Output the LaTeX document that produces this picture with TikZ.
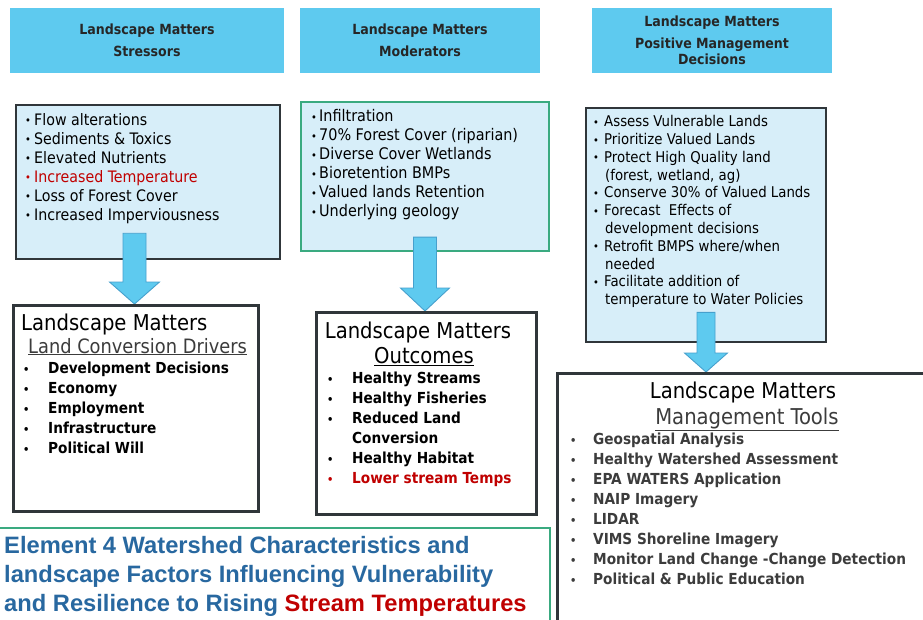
\documentclass[tikz,border=0pt]{standalone}
\usepackage{fontspec}
\setmainfont{DejaVu Sans Condensed}
\newfontfamily\arial{Liberation Sans}
\usetikzlibrary{calc}

\definecolor{cielo}{RGB}{94,202,239}
\definecolor{celeste}{RGB}{215,238,249}
\definecolor{marco}{RGB}{48,54,58}
\definecolor{verde}{RGB}{58,170,128}
\definecolor{rojo}{RGB}{192,0,0}
\definecolor{azulT}{RGB}{40,104,160}
\definecolor{bordeFlecha}{RGB}{70,160,205}
\definecolor{grisT}{RGB}{60,60,60}

% vineta pequena
\newcommand{\vin}[1][8pt]{\makebox[#1][l]{\raisebox{0.4pt}{\fontsize{11}{11}\selectfont\textbullet}}}
\newcommand{\sig}[1][8pt]{\makebox[#1][l]{}}
% flecha de bloque: inicio, punta, medio ancho, media cabeza, largo cabeza
\newcommand{\flecha}[5]{
\draw[flecha] ($(#1)+(-#3,0)$) -- ($(#2)+(-#3,-#5)$) -- ($(#2)+(-#4,-#5)$) -- (#2)
  -- ($(#2)+(#4,-#5)$) -- ($(#2)+(#3,-#5)$) -- ($(#1)+(#3,0)$) -- cycle;
}

\tikzset{
cabecera/.style={fill=cielo,inner sep=0pt,align=center,text=black!85,minimum height=65pt,font=\fontsize{14}{16}\selectfont\bfseries},
cajaAzul/.style={draw=marco,fill=celeste,line width=2.6pt},
cajaVerde/.style={draw=verde,fill=celeste,line width=2.4pt},
cajaBlanca/.style={draw=marco,fill=white,line width=2.8pt,anchor=north west},
cajaTitulo/.style={draw=verde,fill=white,line width=2.4pt,anchor=north west},
lista/.style={anchor=north west,inner sep=0pt,align=left,text=black,font=\fontsize{15.8}{19}\selectfont},
titulo/.style={inner sep=0pt,font=\fontsize{21.8}{24}\selectfont},
puntos/.style={anchor=north west,inner sep=0pt,align=left,font=\fontsize{15.2}{20}\selectfont\bfseries},
flecha/.style={fill=cielo,draw=bordeFlecha,line width=0.9pt,line join=miter}
}

\begin{document}
\begin{tikzpicture}[x=1pt,y=-1pt]
    \useasboundingbox (0,0) rectangle (923,620);
    \clip (0,0) rectangle (923,620);
    \fill[white] (0,0) rectangle (923,620);

    % cabeceras
    \node[cabecera,minimum width=274pt] (h1) at (147,40.5) {Landscape Matters\\[6pt]Stressors};
    \node[cabecera,minimum width=240pt] (h2) at (420,40.5) {Landscape Matters\\[6pt]Moderators};
    \node[cabecera,minimum width=240pt] (h3) at (712,40.5) {Landscape Matters\\[6pt]Positive Management\\Decisions};

    % cajas azules
    \node[cajaAzul,minimum width=264pt,minimum height=154pt] (b1) at (148,182) {};
    \node[cajaVerde,minimum width=248pt,minimum height=149pt] (b2) at (425,176.5) {};
    \node[cajaAzul,minimum width=240pt,minimum height=234pt] (b3) at (706,225) {};

    \node[lista] (lb1) at (25,112.8) {\vin[9pt]Flow alterations\\
      \vin[9pt]Sediments \& Toxics\\
      \vin[9pt]Elevated Nutrients\\
      {\color{rojo}\vin[9pt]Increased Temperature}\\
      \vin[9pt]Loss of Forest Cover\\
      \vin[9pt]Increased Imperviousness};
    \node[lista,font=\fontsize{16}{19}\selectfont] (lb2) at (311,109.6) {\vin Infiltration\\
      \vin 70\% Forest Cover (riparian)\\
      \vin Diverse Cover Wetlands\\
      \vin Bioretention BMPs\\
      \vin Valued lands Retention\\
      \vin Underlying geology};
    \node[lista,font=\fontsize{14.8}{17.8}\selectfont] (lb3) at (593,115.2) {\vin[11pt]Assess Vulnerable Lands\\
      \vin[11pt]Prioritize Valued Lands\\
      \vin[11pt]Protect High Quality land\\
      \sig[12pt](forest, wetland, ag)\\
      \vin[11pt]Conserve 30\% of Valued Lands\\
      \vin[11pt]Forecast\ \ Effects of\\
      \sig[12pt]development decisions\\
      \vin[11pt]Retrofit BMPS where/when\\
      \sig[12pt]needed\\
      \vin[11pt]Facilitate addition of\\
      \sig[12pt]temperature to Water Policies};

    % flechas y cajas blancas
    \coordinate (l1n) at (134.5,304);
    \coordinate (l2n) at (425,311);
    \coordinate (l3n) at (706,372);
    \coordinate (p1) at ($(b1.south -| l1n)+(0,-27)$);
    \coordinate (p2) at ($(b2.south -| l2n)+(0,-15)$);
    \coordinate (p3) at ($(b3.south)+(0,-31)$);
    \flecha{p1}{l1n}{11.5}{25}{22}
    \flecha{p2}{l2n}{11.5}{24.5}{23}
    \flecha{p3}{l3n}{9}{21.5}{19}

    \node[cajaBlanca,minimum width=245pt,minimum height=206pt] (l1) at (12,304) {};
    \node[cajaBlanca,minimum width=220pt,minimum height=202pt] (l2) at (315,311) {};
    \node[cajaBlanca,minimum width=374pt,minimum height=258pt] (l3) at (556,372) {};

    \node[titulo,anchor=base west] (tl1) at (21,330) {Landscape Matters};
    \node[titulo,anchor=base west,text=grisT,font=\fontsize{19.8}{24}\selectfont] (sl1) at (28,353) {\underline{Land Conversion Drivers}};
    \node[puntos] (pl1) at (23,361.9) {\vin[25pt]Development Decisions\\
      \vin[25pt]Economy\\
      \vin[25pt]Employment\\
      \vin[25pt]Infrastructure\\
      \vin[25pt]Political Will};

    \node[titulo,anchor=base] (tl2) at (418,338) {Landscape Matters};
    \node[titulo,anchor=base] (sl2) at (424,363) {\underline{Outcomes}};
    \node[puntos] (pl2) at (327,371.9) {\vin[25pt]Healthy Streams\\
      \vin[25pt]Healthy Fisheries\\
      \vin[25pt]Reduced Land\\
      \sig[25pt]Conversion\\
      \vin[25pt]Healthy Habitat\\
      {\color{rojo}\vin[25pt]Lower stream Temps}};

    \node[titulo,anchor=base] (tl3) at (743,398) {Landscape Matters};
    \node[titulo,anchor=base,text=grisT] (sl3) at (747,424) {\underline{Management Tools}};
    \node[puntos,text=grisT] (pl3) at (570,432.9) {\vin[23pt]Geospatial Analysis\\
      \vin[23pt]Healthy Watershed Assessment\\
      \vin[23pt]EPA WATERS Application\\
      \vin[23pt]NAIP Imagery\\
      \vin[23pt]LIDAR\\
      \vin[23pt]VIMS Shoreline Imagery\\
      \vin[23pt]Monitor Land Change -Change Detection\\
      \vin[23pt]Political \& Public Education};

    % titulo
    \node[cajaTitulo,minimum width=553pt,minimum height=100pt] (tt) at (-4,527) {};
    \node[anchor=north west,inner sep=0pt,align=left,text=azulT,font=\arial\bfseries\fontsize{23.7}{29}\selectfont] (te) at (4,536.4) {Element 4 Watershed Characteristics and\\
      landscape Factors Influencing Vulnerability\\
      and Resilience to Rising {\color{rojo}Stream Temperatures}};
\end{tikzpicture}
\end{document}
